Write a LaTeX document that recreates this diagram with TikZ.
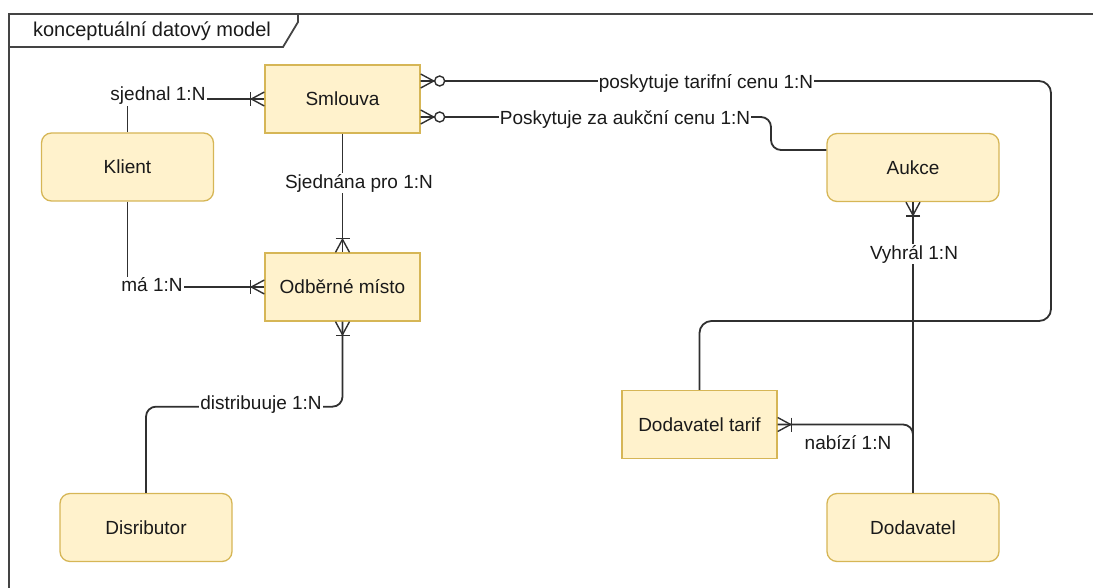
\documentclass[tikz,border=0pt]{standalone}
\usepackage{fontspec}
\setmainfont{Liberation Sans}
\definecolor{fillc}{HTML}{FFF2CC}
\definecolor{drawc}{HTML}{D6B656}
\definecolor{linec}{HTML}{303030}
\definecolor{framec}{HTML}{444444}
\definecolor{textc}{HTML}{1A1A1A}
\tikzset{
  conn/.style={draw=linec, line width=1.8pt},
  mark1n/.pic={\draw[conn,line width=1.4pt] (0,7pt) -- (13pt,0) -- (0,-7pt);
               \draw[conn,line width=1.4pt] (14pt,7pt) -- (14pt,-7pt);},
  mark0n/.pic={\draw[conn,line width=1.4pt] (0,7pt) -- (13pt,0) -- (0,-7pt);
               \draw[conn,line width=1.4pt,fill=white] (19pt,0) circle (5pt);}
}
\begin{document}
\begin{tikzpicture}[x=1pt,y=-1pt,
  ent/.style={draw=drawc, fill=fillc, line width=1.3pt, minimum width=155pt,
    minimum height=68pt, font=\fontsize{19}{22}\selectfont, text=textc, inner sep=0pt},
  rent/.style={ent, rounded corners=10pt, minimum width=172pt},
  lbl/.style={fill=white, inner sep=1pt, font=\fontsize{19}{22}\selectfont, text=textc},
  frame/.style={draw=framec, line width=1.8pt}]
\useasboundingbox (0,0) rectangle (1093,588);

% frame
\draw[frame] (9,588) -- (9,14) -- (1093,14);
\draw[frame] (9,47) -- (283,47) -- (298,22) -- (298,14);
\node[font=\fontsize{20}{24}\selectfont, text=textc] (title) at (152,31) {konceptuální datový model};

% entities
\node[ent]  (smlouva) at (342.5,99)  {Smlouva};
\node[rent] (klient)  at (127.5,167) {Klient};
\node[ent]  (odber)   at (342.5,287) {Odběrné místo};
\node[rent] (aukce)   at (913,167.5) {Aukce};
\node[ent]  (dtarif)  at (699.5,424.5) {Dodavatel tarif};
\node[rent] (distrib) at (146,527.5) {Disributor};
\node[rent] (dodav)   at (913,527.5) {Dodavatel};

% connectors
\draw[conn] (klient.north) |- (smlouva.west);
\draw[conn] (klient.south) |- (odber.west);
\draw[conn] (smlouva.south) -- (odber.north);
\draw[conn, rounded corners=10pt] (odber.south) -- ++(0,85) -| (distrib.north);
\draw[conn, rounded corners=10pt] ([yshift=-18pt]smlouva.east) -- (771,117) -- (771,150) -- ([yshift=17.5pt]aukce.west);
\draw[conn, rounded corners=12pt] ([yshift=18pt]smlouva.east) -- (1051,81) -- (1051,321) -| (dtarif.north);
\draw[conn] (aukce.south) -- (dodav.north);
\draw[conn, rounded corners=10pt] (dodav.north) |- (dtarif.east);

% ER markers
\pic[rotate=180] at (smlouva.west) {mark1n};
\pic[rotate=180] at (odber.west) {mark1n};
\pic[rotate=90] at (odber.north) {mark1n};
\pic[rotate=-90] at (odber.south) {mark1n};
\pic[rotate=-90] at (aukce.south) {mark1n};
\pic at (dtarif.east) {mark1n};
\pic at ([yshift=18pt]smlouva.east) {mark0n};
\pic at ([yshift=-18pt]smlouva.east) {mark0n};

% labels
\node[lbl] (l1) at (158,96)  {sjednal 1:N};
\node[lbl] (l2) at (152,285) {má 1:N};
\node[lbl] (l3) at (359,183) {Sjednána pro 1:N};
\node[lbl] (l4) at (261,405) {distribuuje 1:N};
\node[lbl] (l5) at (625,119) {Poskytuje za aukční cenu 1:N};
\node[lbl] (l6) at (706,83)  {poskytuje tarifní cenu 1:N};
\node[lbl] (l7) at (914,254) {Vyhrál 1:N};
\node[lbl] (l8) at (848,443) {nabízí 1:N};
\end{tikzpicture}
\end{document}
